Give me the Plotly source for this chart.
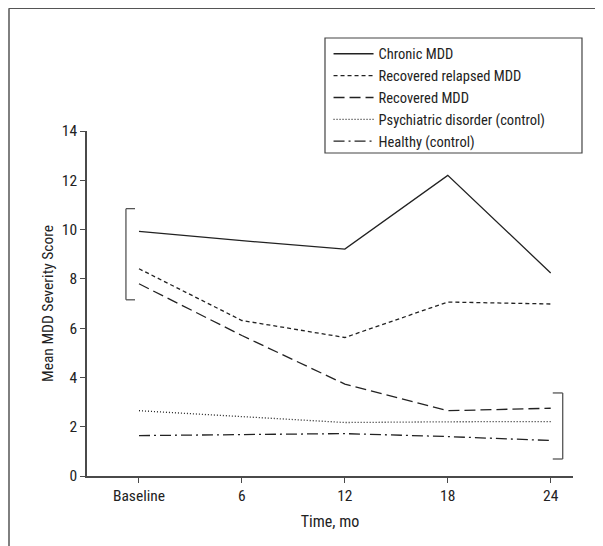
import plotly.graph_objects as go

# ---- data ----
months = [0, 6, 12, 18, 24]
tick_labels = ["Baseline", "6", "12", "18", "24"]
chronic = [9.93, 9.55, 9.21, 12.2, 8.24]
recovered_relapsed = [8.41, 6.31, 5.62, 7.06, 6.98]
recovered = [7.80, 5.70, 3.73, 2.65, 2.75]
psychiatric = [2.65, 2.42, 2.17, 2.20, 2.21]
healthy = [1.64, 1.69, 1.72, 1.60, 1.44]

series_names = ["Chronic MDD", "Recovered relapsed MDD", "Recovered MDD",
                "Psychiatric disorder (control)", "Healthy (control)"]
series_values = [chronic, recovered_relapsed, recovered, psychiatric, healthy]
series_dash = ["solid", "4px,3px", "11px,5px", "1px,2px", "11px,4px,2px,4px"]

# bracket extents (month, score)
left_bracket_x = [-0.76, -0.23]
left_bracket_y = [7.15, 10.85]
right_bracket_x = [24.70, 24.12]
right_bracket_y = [0.69, 3.37]

FONT = "Liberation Sans Narrow, Arial Narrow, Roboto Condensed, Roboto, sans-serif"
AX = "#4a4a4a"

fig = go.Figure()
for name, vals, dash in zip(series_names, series_values, series_dash):
    fig.add_trace(go.Scatter(
        x=months, y=vals, name=name, mode="lines",
        line=dict(color="#222222", width=1.3, dash=dash),
    ))

shapes = []
lx, lx2 = left_bracket_x
ly0, ly1 = left_bracket_y
shapes += [
    dict(type="line", xref="x", yref="y", x0=lx, x1=lx, y0=ly0, y1=ly1),
    dict(type="line", xref="x", yref="y", x0=lx, x1=lx2, y0=ly0, y1=ly0),
    dict(type="line", xref="x", yref="y", x0=lx, x1=lx2, y0=ly1, y1=ly1),
]
rx, rx2 = right_bracket_x
ry0, ry1 = right_bracket_y
shapes += [
    dict(type="line", xref="x", yref="y", x0=rx, x1=rx, y0=ry0, y1=ry1),
    dict(type="line", xref="x", yref="y", x0=rx, x1=rx2, y0=ry0, y1=ry0),
    dict(type="line", xref="x", yref="y", x0=rx, x1=rx2, y0=ry1, y1=ry1),
]
for s in shapes:
    s["line"] = dict(color="#555555", width=1.3)

# outer figure frame (left and top edges)
frame = [
    dict(type="line", xref="paper", yref="paper", x0=-0.1605, x1=-0.1605, y0=-0.4, y1=1.356),
    dict(type="line", xref="paper", yref="paper", x0=-0.1605, x1=1.2, y0=1.356, y1=1.356),
]
for s in frame:
    s["line"] = dict(color="#555555", width=1.5)
shapes += frame

# legend frame box
shapes.append(dict(type="rect", xref="paper", yref="paper",
                   x0=0.4897, x1=1.0185, y0=0.9362, y1=1.2696,
                   line=dict(color="#444444", width=1.2)))

fig.update_layout(
    width=603, height=546,
    margin=dict(l=79, r=38, t=123, b=78, autoexpand=False),
    paper_bgcolor="white", plot_bgcolor="white",
    font=dict(family=FONT, size=15, color="#222222"),
    showlegend=True,
    legend=dict(
        x=0.497, y=1.27, xanchor="left", yanchor="top",
        borderwidth=0, bgcolor="rgba(0,0,0,0)",
        font=dict(family=FONT, size=14.5, color="#222222"),
        tracegroupgap=0, itemwidth=40,
    ),
    shapes=shapes,
)
fig.update_xaxes(
    range=[-3.03, 25.3], tickvals=months, ticktext=tick_labels,
    showgrid=False, zeroline=False, showline=True, linecolor=AX, linewidth=1.5,
    ticks="outside", ticklen=5, tickcolor=AX, tickwidth=1.2,
    tickfont=dict(size=15.5),
    title=dict(text="Time, mo", standoff=11, font=dict(size=16)),
    automargin=False,
)
fig.update_yaxes(
    range=[0, 14], tickvals=[0, 2, 4, 6, 8, 10, 12, 14],
    showgrid=False, zeroline=False, showline=True, linecolor=AX, linewidth=1.5,
    ticks="outside", ticklen=5, tickcolor=AX, tickwidth=1.2,
    tickfont=dict(size=15.5),
    title=dict(text="Mean MDD Severity Score", standoff=4, font=dict(size=15.5)),
    automargin=False,
)

fig.write_html("out.html")
